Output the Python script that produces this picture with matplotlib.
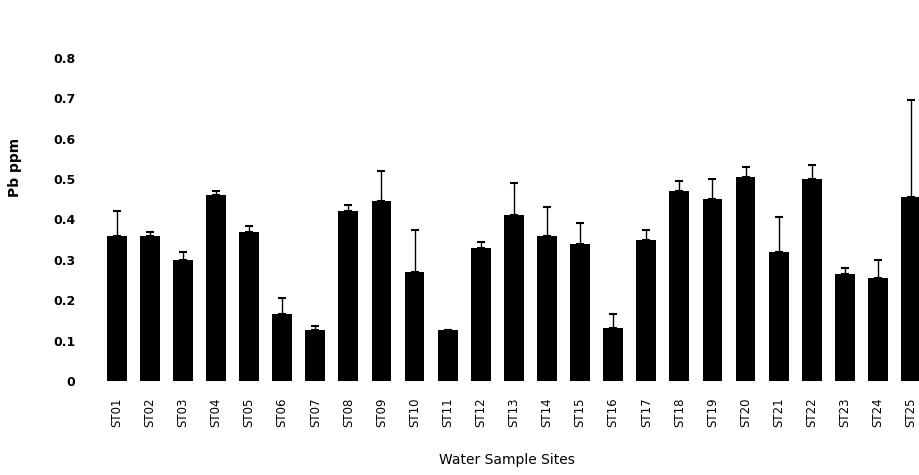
import matplotlib.pyplot as plt
import numpy as np

# Pb concentration per site, with upper error bar limit
sites = ['ST01', 'ST02', 'ST03', 'ST04', 'ST05', 'ST06', 'ST07', 'ST08', 'ST09', 'ST10',
         'ST11', 'ST12', 'ST13', 'ST14', 'ST15', 'ST16', 'ST17', 'ST18', 'ST19', 'ST20',
         'ST21', 'ST22', 'ST23', 'ST24', 'ST25']
pb_mean = [0.36, 0.36, 0.30, 0.46, 0.37, 0.165, 0.125, 0.42, 0.445, 0.27,
           0.125, 0.33, 0.41, 0.36, 0.34, 0.13, 0.35, 0.47, 0.45, 0.505,
           0.32, 0.50, 0.265, 0.255, 0.455]
pb_upper = [0.42, 0.37, 0.32, 0.47, 0.385, 0.205, 0.135, 0.435, 0.52, 0.375,
            0.125, 0.345, 0.49, 0.43, 0.39, 0.165, 0.375, 0.495, 0.50, 0.53,
            0.405, 0.535, 0.28, 0.30, 0.695]
yticks = [0, 0.1, 0.2, 0.3, 0.4, 0.5, 0.6, 0.7, 0.8]
ytick_labels = ['0', '0.1', '0.2', '0.3', '0.4', '0.5', '0.6', '0.7', '0.8']

mean = np.array(pb_mean)
err_up = np.array(pb_upper) - mean
err = [np.zeros_like(mean), err_up]

fig = plt.figure(figsize=(9.19, 4.75), dpi=100)
ax = fig.add_axes([0.103, 0.198, 0.897, 0.68])

x = np.arange(len(sites))
ax.bar(x, mean, width=0.6, color='black', yerr=err, capsize=3,
       error_kw=dict(ecolor='black', elinewidth=1, capthick=1.5))

ax.set_ylim(0, 0.8)
ax.set_xlim(-0.665, 24.24)
ax.set_yticks(yticks)
ax.set_yticklabels(ytick_labels, fontsize=9, fontweight='bold')
ax.set_xticks(x)
ax.set_xticklabels(sites, rotation=90, fontsize=8.5)
ax.tick_params(axis='both', length=0)
ax.tick_params(axis='y', pad=14)
ax.tick_params(axis='x', pad=12)
for s in ax.spines.values():
    s.set_visible(False)

ax.set_ylabel('Pb ppm', fontsize=10, fontweight='bold')
ax.yaxis.set_label_coords(-0.088, 0.66)
ax.set_xlabel('Water Sample Sites', fontsize=10)
ax.xaxis.set_label_coords(0.5, -0.222)

fig.savefig('out.png', dpi=100)
